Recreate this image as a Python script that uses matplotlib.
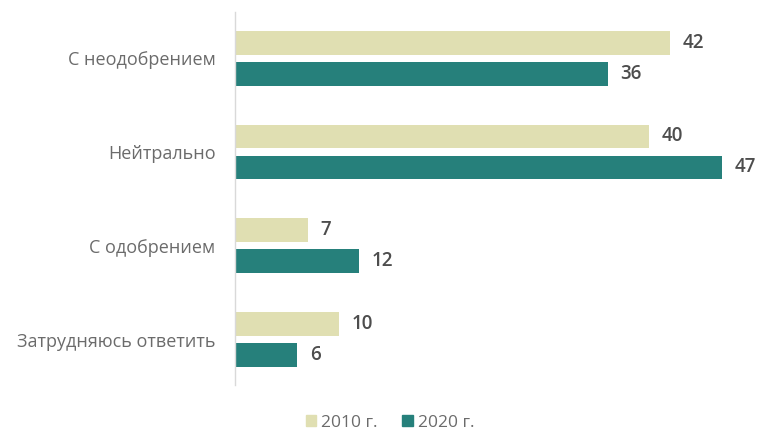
import numpy as np
import matplotlib.pyplot as plt
from matplotlib.patches import Patch

plt.rcParams['font.family'] = ['Open Sans', 'DejaVu Sans']

# Data
categories = ['С неодобрением', 'Нейтрально', 'С одобрением', 'Затрудняюсь ответить']
values_2010 = [42, 40, 7, 10]
values_2020 = [36, 47, 12, 6]
series_names = ['2010 г.', '2020 г.']

c2010 = '#e0dfb2'
c2020 = '#26807b'

fig = plt.figure(figsize=(7.6, 4.34), dpi=100)
ax = fig.add_axes([235 / 760, 1 - 385 / 434, 518 / 760, 373 / 434])

y = np.arange(len(categories))
h = 0.255
off = 0.165

b1 = ax.barh(y - off, values_2010, height=h, color=c2010)
b2 = ax.barh(y + off, values_2020, height=h, color=c2020)

for bars, vals in ((b1, values_2010), (b2, values_2020)):
    for b, v in zip(bars, vals):
        ax.annotate(str(v), xy=(v, b.get_y() + b.get_height() / 2),
                    xytext=(9, 0), textcoords='offset points',
                    ha='left', va='center', fontsize=13.5, fontweight='semibold',
                    color='#4d4d4d')

ax.set_xlim(0, 50)
ax.set_ylim(3.48, -0.49)
ax.set_yticks(y)
ax.set_yticklabels(categories, fontsize=13, color='#6b6b6b')
ax.tick_params(axis='y', length=0, pad=14)
ax.set_xticks([])

for s in ('top', 'right', 'bottom'):
    ax.spines[s].set_visible(False)
ax.spines['left'].set_color('#d9d9d9')
ax.spines['left'].set_linewidth(1)

handles = [Patch(color=c2010, label=series_names[0]),
           Patch(color=c2020, label=series_names[1])]
fig.legend(handles=handles, loc='center', bbox_to_anchor=(390 / 760, 1 - 423 / 434),
           ncol=2, frameon=False, fontsize=12.5, labelcolor='#6b6b6b',
           handlelength=0.6, handleheight=0.6, handletextpad=0.3, columnspacing=1.4,
           borderpad=0.1)

fig.savefig('out.png', dpi=100)
